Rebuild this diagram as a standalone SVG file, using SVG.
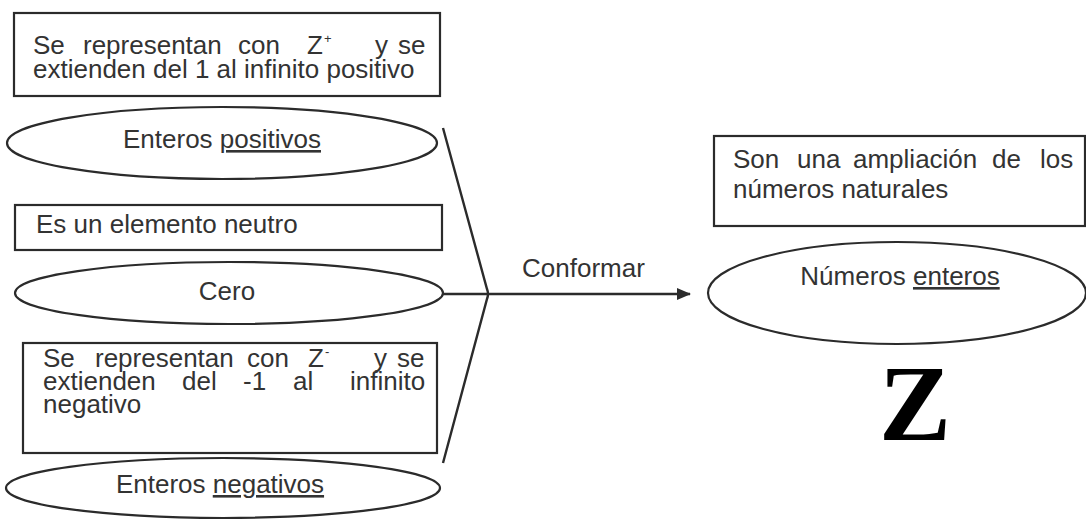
<svg xmlns="http://www.w3.org/2000/svg" width="1086" height="524" viewBox="0 0 1086 524">
<defs>
<style>
.box{fill:none;stroke:#2b2b2b;stroke-width:2.2}
.ell{fill:none;stroke:#2b2b2b;stroke-width:2.2}
.t{font-family:"Liberation Sans",Arial,sans-serif;font-size:26px;fill:#333}
.c{text-anchor:middle}
.u{text-decoration:underline}
.sup{font-family:"Liberation Sans",Arial,sans-serif;font-size:13px;fill:#333}
.con{fill:none;stroke:#2b2b2b;stroke-width:2.4}
</style>
<marker id="ah" markerWidth="14" markerHeight="12" refX="13" refY="6" orient="auto" markerUnits="userSpaceOnUse">
<path d="M0,0 L14,6 L0,12 Z" fill="#2b2b2b"/>
</marker>
</defs>
<rect width="1086" height="524" fill="#fff"/>

<g id="box-positivos">
<rect class="box" x="14" y="13" width="426" height="83"/>
<text class="t" x="33" y="54">Se</text>
<text class="t" x="83" y="54">representan</text>
<text class="t" x="238" y="54">con</text>
<text class="t" x="307" y="54">Z</text>
<text class="sup" x="324" y="43">+</text>
<text class="t" x="375" y="54">y</text>
<text class="t" x="398" y="54">se</text>
<text class="t" x="33" y="78">extienden del 1 al infinito positivo</text>
</g>

<g id="node-positivos">
<ellipse class="ell" cx="222" cy="143" rx="215" ry="36"/>
<text class="t c" x="222" y="148">Enteros <tspan class="u">positivos</tspan></text>
</g>

<g id="box-neutro">
<rect class="box" x="15" y="205" width="427" height="45"/>
<text class="t" x="36" y="233">Es un elemento neutro</text>
</g>

<g id="node-cero">
<ellipse class="ell" cx="229" cy="293" rx="214" ry="31"/>
<text class="t c" x="227" y="300">Cero</text>
</g>

<g id="box-negativos">
<rect class="box" x="23" y="343" width="414" height="110"/>
<text class="t" x="43" y="367">Se</text>
<text class="t" x="95" y="367">representan</text>
<text class="t" x="247" y="367">con</text>
<text class="t" x="308" y="367">Z</text>
<text class="sup" x="325" y="356">-</text>
<text class="t" x="374" y="367">y</text>
<text class="t" x="397" y="367">se</text>
<text class="t" x="43" y="390">extienden</text>
<text class="t" x="182" y="390">del</text>
<text class="t" x="243" y="390">-1</text>
<text class="t" x="293" y="390">al</text>
<text class="t" x="350" y="390">infinito</text>
<text class="t" x="43" y="413">negativo</text>
</g>

<g id="node-negativos">
<ellipse class="ell" cx="223" cy="488" rx="217" ry="30"/>
<text class="t c" x="220" y="493">Enteros <tspan class="u">negativos</tspan></text>
</g>

<g id="box-ampliacion">
<rect class="box" x="714" y="136" width="371" height="90"/>
<text class="t" x="733" y="168">Son</text>
<text class="t" x="797" y="168">una</text>
<text class="t" x="853" y="168">ampliación</text>
<text class="t" x="992" y="168">de</text>
<text class="t" x="1040" y="168">los</text>
<text class="t" x="733" y="198">números naturales</text>
</g>

<g id="node-enteros">
<ellipse class="ell" cx="897" cy="293" rx="189" ry="51"/>
<text class="t c" x="900" y="285">Números <tspan class="u">enteros</tspan></text>
</g>

<g id="symbol-z">
<text x="915" y="440" text-anchor="middle" font-family="'Liberation Serif','Times New Roman',serif" font-weight="bold" font-size="108" fill="#000">Z</text>
</g>

<g id="connectors">
<path class="con" d="M443,128 L487,289 Q489,294 487,299 L443,463"/>
<line class="con" x1="443" y1="294" x2="690" y2="294" marker-end="url(#ah)"/>
<text class="t" x="522" y="277">Conformar</text>
</g>
</svg>
